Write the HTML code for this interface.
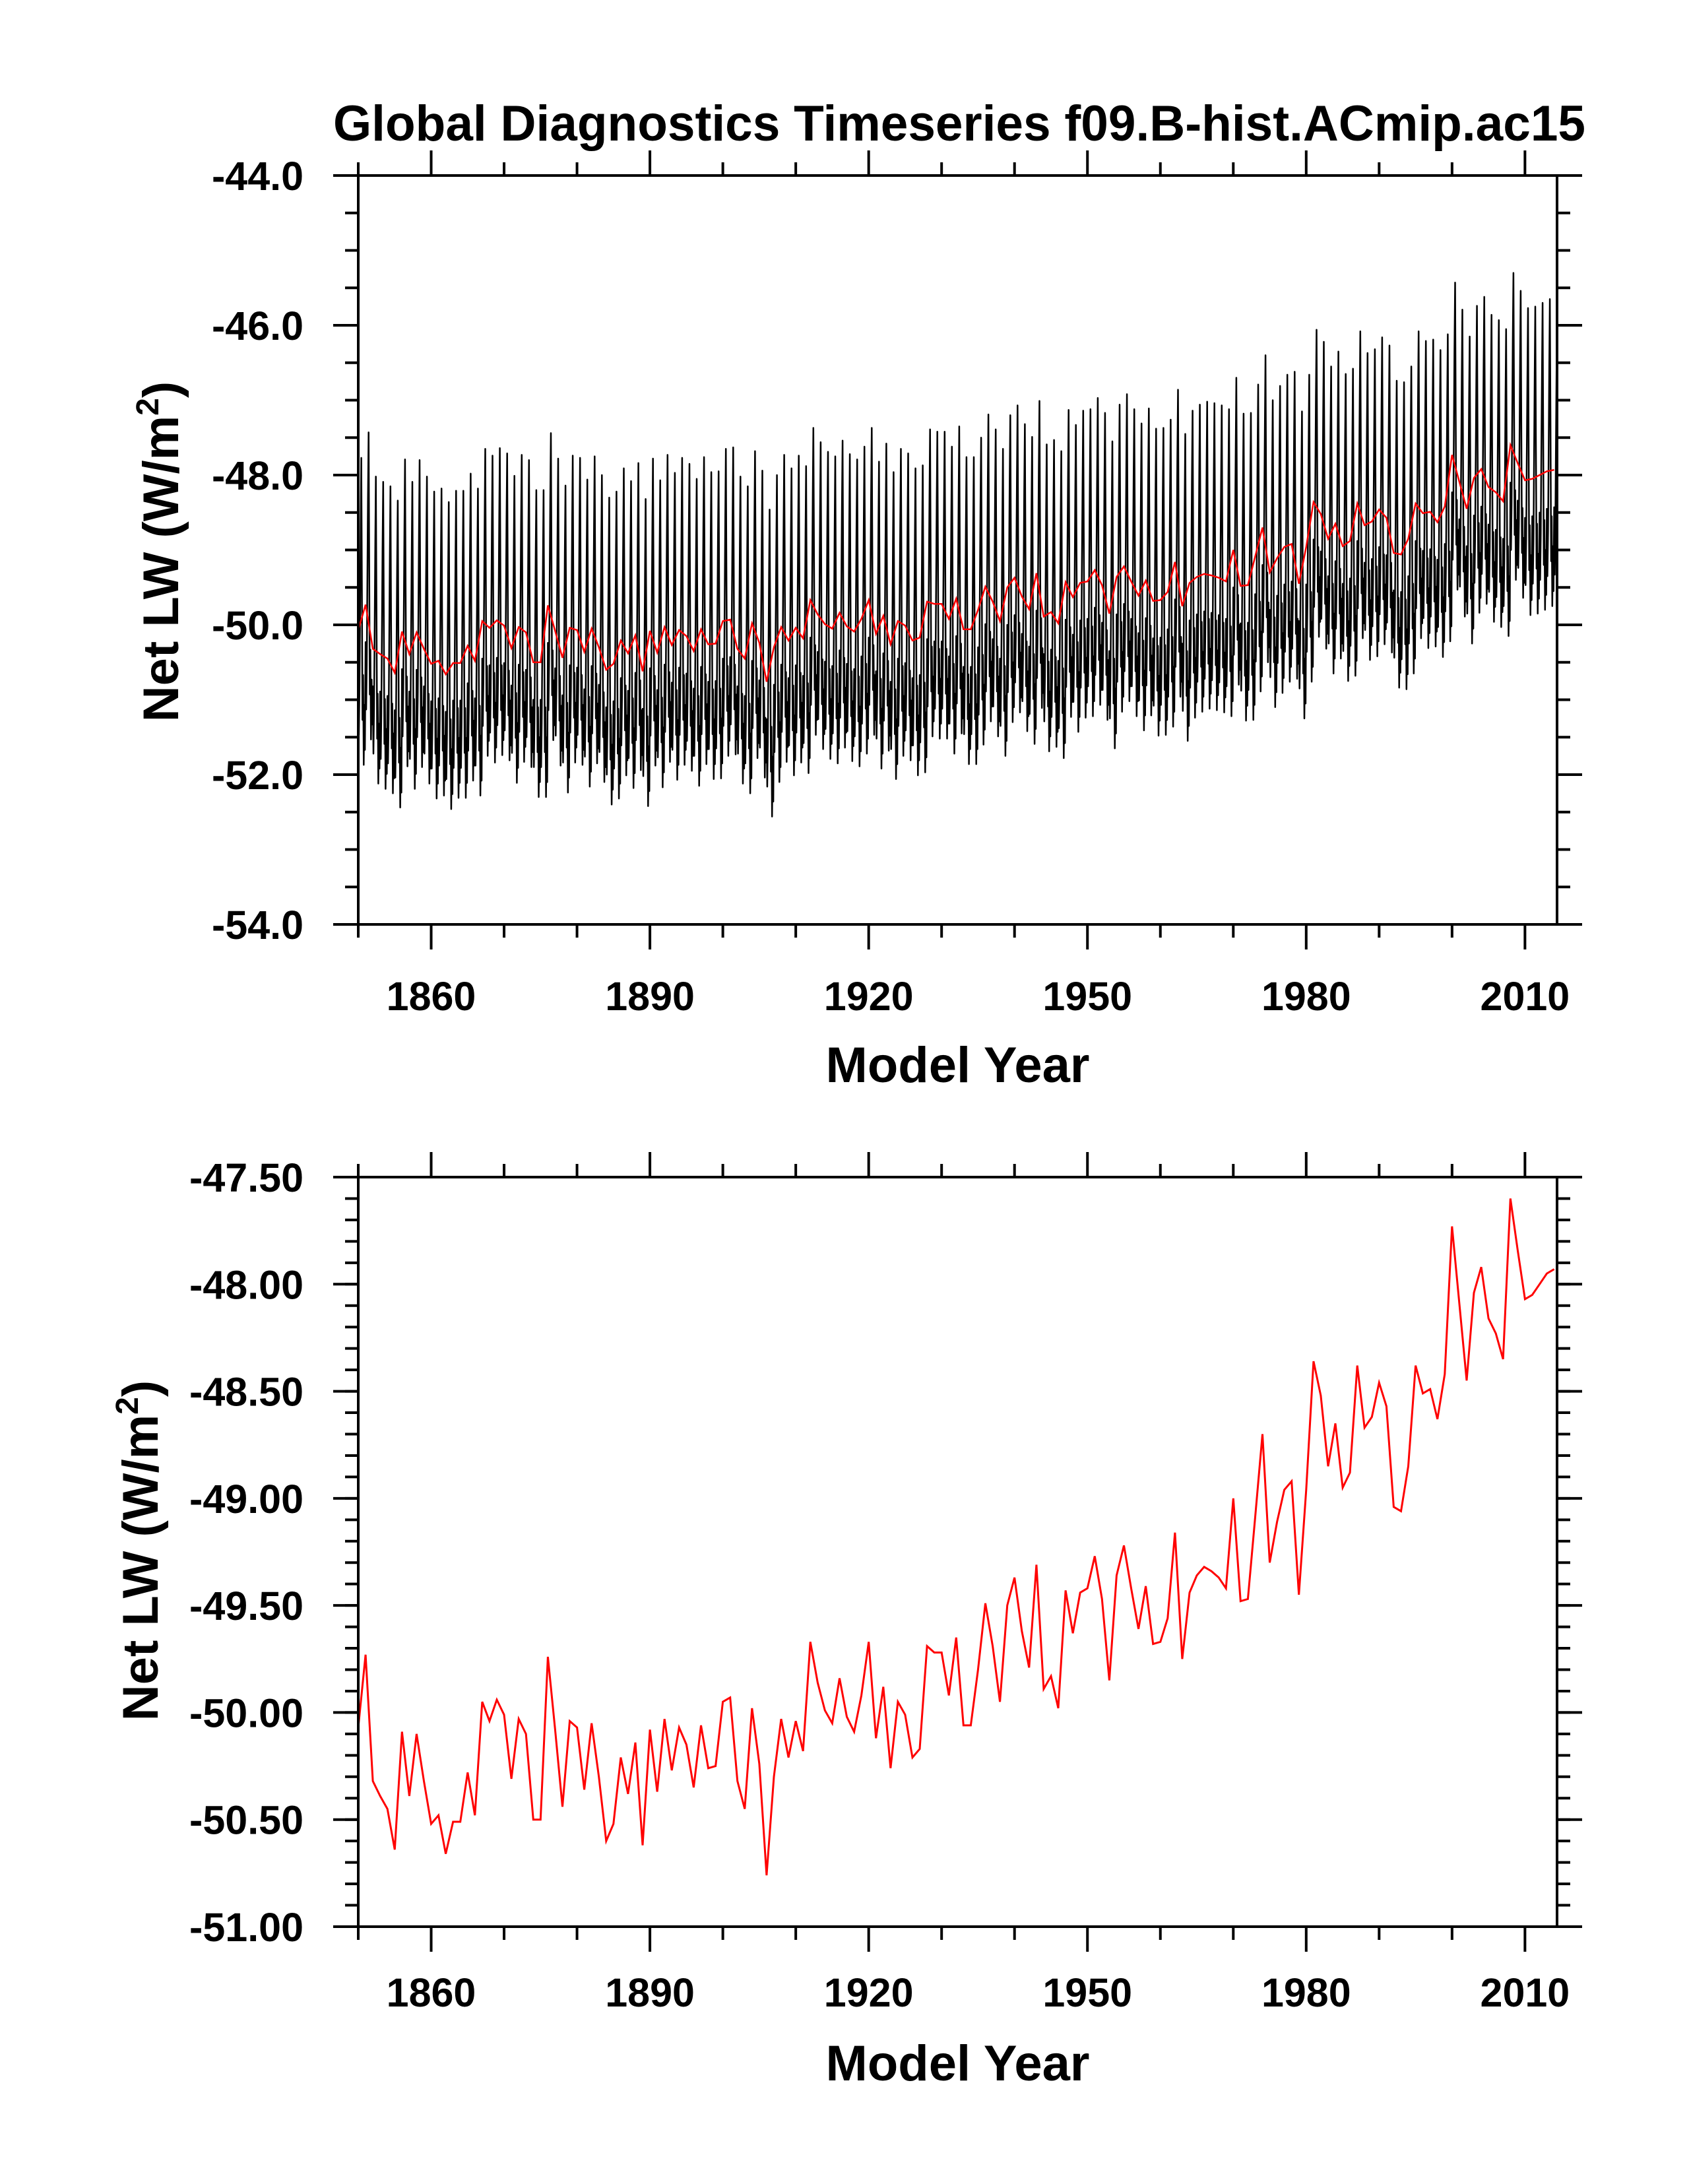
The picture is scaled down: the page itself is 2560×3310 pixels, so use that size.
<!DOCTYPE html>
<html>
<head>
<meta charset="utf-8">
<style>
html,body{margin:0;padding:0;background:#fff;}
svg{display:block;}
text{font-family:"Liberation Sans",Arial,sans-serif;font-weight:bold;fill:#000;}
</style>
</head>
<body>
<svg id="chart" width="2560" height="3310" viewBox="0 0 2560 3310" xmlns="http://www.w3.org/2000/svg">
<rect width="2560" height="3310" fill="#fff"/>
<text x="505" y="213" font-size="76" textLength="1898" lengthAdjust="spacingAndGlyphs">Global Diagnostics Timeseries f09.B-hist.ACmip.ac15</text>
<g id="top"></g>
<g id="bot"></g>
</svg>
<script>
// ---- data ----
const startYear = 1850;
const annualMean = [
-50.07,-49.73,-50.32,-50.39,-50.45,-50.64,-50.09,-50.39,-50.10,-50.32,
-50.52,-50.48,-50.66,-50.51,-50.51,-50.28,-50.48,-49.95,-50.04,-49.94,
-50.01,-50.31,-50.03,-50.10,-50.50,-50.50,-49.74,-50.08,-50.44,-50.04,
-50.07,-50.36,-50.05,-50.30,-50.60,-50.52,-50.21,-50.38,-50.14,-50.62,
-50.08,-50.37,-50.03,-50.27,-50.07,-50.15,-50.35,-50.06,-50.26,-50.25,
-49.95,-49.93,-50.32,-50.45,-49.98,-50.24,-50.76,-50.30,-50.03,-50.21,
-50.04,-50.18,-49.67,-49.86,-49.99,-50.05,-49.84,-50.02,-50.09,-49.92,
-49.67,-50.12,-49.88,-50.26,-49.95,-50.01,-50.21,-50.17,-49.69,-49.72,
-49.72,-49.92,-49.65,-50.06,-50.06,-49.80,-49.49,-49.69,-49.95,-49.50,
-49.37,-49.62,-49.79,-49.31,-49.89,-49.83,-49.98,-49.43,-49.63,-49.44,
-49.42,-49.27,-49.47,-49.85,-49.36,-49.22,-49.42,-49.61,-49.41,-49.68,
-49.67,-49.56,-49.16,-49.75,-49.44,-49.36,-49.32,-49.34,-49.37,-49.42,
-49.00,-49.48,-49.47,-49.09,-48.70,-49.30,-49.11,-48.96,-48.92,-49.45,
-48.96,-48.36,-48.52,-48.85,-48.65,-48.95,-48.88,-48.38,-48.67,-48.62,
-48.46,-48.57,-49.04,-49.06,-48.85,-48.38,-48.51,-48.49,-48.63,-48.42,
-47.73,-48.09,-48.45,-48.04,-47.92,-48.16,-48.23,-48.35,-47.60,-47.84,
-48.07,-48.05,-48.00,-47.95,-47.93];
// seasonal departure of monthly values from the annual mean (Jan..Dec)
const seasonalCycle = [-0.5,-1.4,-0.8,0.3,1.4,2.3,0.6,-1.2,-0.6,-1.8,-1.0,-1.6];
const xMajorTicks = [1860,1890,1920,1950,1980,2010];
const xMinorTicks = [1850,1870,1880,1900,1910,1930,1940,1960,1970,1990,2000];
const topYTicks = ["-54.0","-52.0","-50.0","-48.0","-46.0","-44.0"];
const botYTicks = ["-51.00","-50.50","-50.00","-49.50","-49.00","-48.50","-48.00","-47.50"];

// ---- layout ----
const NS = "http://www.w3.org/2000/svg";
const L = 543, R = 2360, XMIN = 1850, XMAX = 2014.4;
const xs = v => L + (v - XMIN) / (XMAX - XMIN) * (R - L);

function mk(parent, tag, attrs){
  const e = document.createElementNS(NS, tag);
  for (const k in attrs) e.setAttribute(k, attrs[k]);
  parent.appendChild(e);
  return e;
}

function panel(g, T, B, ymin, ymax, yTicks, yMinorStep, titleCx, titleCy, axisY, xTitleY) {
  const ys = v => B - (v - ymin) / (ymax - ymin) * (B - T);
  const cid = g.id + "-clip";
  const cp = mk(g, "clipPath", {id: cid});
  mk(cp, "rect", {x: L, y: T, width: R - L, height: B - T});
  const tk = mk(g, "g", {stroke: "#000", "stroke-width": 4, fill: "none"});
  
  
  xMajorTicks.forEach(v => {
    const x = xs(v);
    mk(tk, "line", {x1: x, x2: x, y1: B, y2: B + 38});
    mk(tk, "line", {x1: x, x2: x, y1: T, y2: T - 38});
  });
  xMinorTicks.forEach(v => {
    const x = xs(v);
    mk(tk, "line", {x1: x, x2: x, y1: B, y2: B + 20});
    mk(tk, "line", {x1: x, x2: x, y1: T, y2: T - 20});
  });
  for (let v = ymin; v <= ymax + 1e-9; v += yMinorStep) {
    const y = ys(v);
    mk(tk, "line", {x1: L, x2: L - 20, y1: y, y2: y});
    mk(tk, "line", {x1: R, x2: R + 20, y1: y, y2: y});
  }
  yTicks.forEach(t => {
    const y = ys(parseFloat(t));
    mk(tk, "line", {x1: L, x2: L - 38, y1: y, y2: y});
    mk(tk, "line", {x1: R, x2: R + 38, y1: y, y2: y});
  });
  yTicks.forEach(t => {
    const tx = mk(g, "text", {x: 460, y: ys(parseFloat(t)) + 22, "font-size": 61, "text-anchor": "end"});
    tx.textContent = t;
    
    
  });
  xMajorTicks.forEach(v => {
    const tx = mk(g, "text", {x: xs(v), y: axisY, "font-size": 61, "text-anchor": "middle"});
    tx.textContent = String(v);
    
    
  });
  const xt = mk(g, "text", {x: (L + R) / 2, y: xTitleY, "font-size": 76, "text-anchor": "middle"});
  xt.textContent = "Model Year";
  
  
  const yt = mk(g, "text", {x: 0, y: 0, "font-size": 76, "text-anchor": "middle",
    transform: `translate(${titleCx + 27},${titleCy}) rotate(-90)`});
  yt.innerHTML = 'Net LW (W/m<tspan font-size="48" dy="-30">2</tspan><tspan dy="30">)</tspan>';
  
  
  return {ys, cid};
}

// ---- top panel ----
const gTop = document.getElementById("top");
const TT = 266, TB = 1401;
const pt = panel(gTop, TT, TB, -54, -44, topYTicks, 0.5, 243, 836, 1531, 1640);
let dMon = "";
annualMean.forEach((a, i) => {
  seasonalCycle.forEach((s, m) => {
    const t = startYear + i + m / 12;
    dMon += (dMon ? "L" : "M") + xs(t).toFixed(1) + "," + pt.ys(a + s).toFixed(1);
  });
});
const mon = mk(gTop, "path", {d: dMon, stroke: "#000", "stroke-width": 2.5, fill: "none", "clip-path": `url(#${pt.cid})`, "stroke-linejoin": "round"});


let dAnn = "";
annualMean.forEach((a, i) => {
  dAnn += (i ? "L" : "M") + xs(startYear + i).toFixed(1) + "," + pt.ys(a).toFixed(1);
});
const ann1 = mk(gTop, "path", {d: dAnn, stroke: "#ff0000", "stroke-width": 2.5, fill: "none", "clip-path": `url(#${pt.cid})`});


const fr1 = mk(gTop, "rect", {x: L, y: TT, width: R - L, height: TB - TT, fill: "none", stroke: "#000", "stroke-width": 4});



// ---- bottom panel ----
const gBot = document.getElementById("bot");
const BT = 1784, BB = 2920;
const pb = panel(gBot, BT, BB, -51, -47.5, botYTicks, 0.1, 212, 2350, 3041, 3153);
let dAnn2 = "";
annualMean.forEach((a, i) => {
  dAnn2 += (i ? "L" : "M") + xs(startYear + i).toFixed(1) + "," + pb.ys(a).toFixed(1);
});
const ann2 = mk(gBot, "path", {d: dAnn2, stroke: "#ff0000", "stroke-width": 3, fill: "none", "clip-path": `url(#${pb.cid})`});


const fr2 = mk(gBot, "rect", {x: L, y: BT, width: R - L, height: BB - BT, fill: "none", stroke: "#000", "stroke-width": 4});


</script>
</body>
</html>
